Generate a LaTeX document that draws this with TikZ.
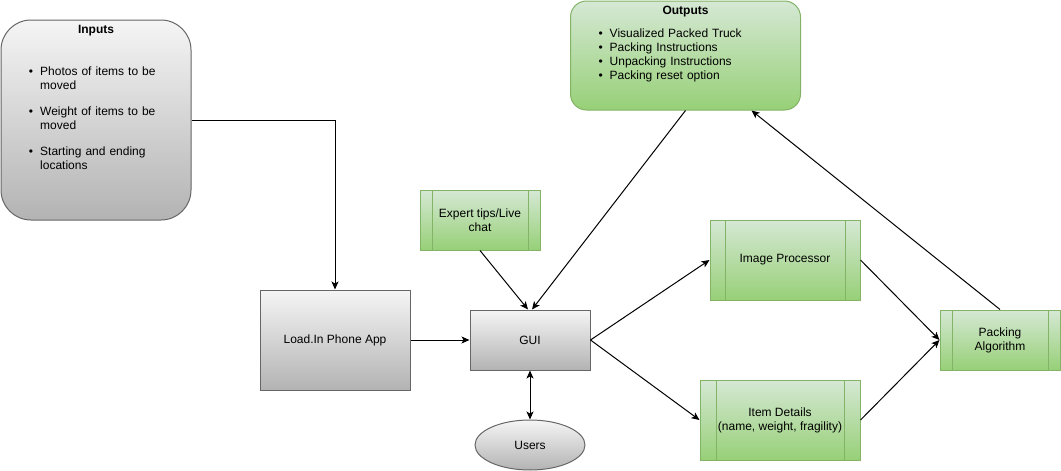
\documentclass[tikz,border=0pt]{standalone}
\usepackage{fontspec}
\setmainfont{Liberation Sans}
\usetikzlibrary{arrows.meta,shapes.geometric}

\definecolor{greyedge}{HTML}{666666}
\definecolor{greytop}{HTML}{F5F5F5}
\definecolor{greybot}{HTML}{B3B3B3}
\definecolor{greenedge}{HTML}{82B366}
\definecolor{greentop}{HTML}{D5E8D4}
\definecolor{greenbot}{HTML}{97D077}

\newcommand{\bulletlist}[1]{\hspace*{28pt}\begin{tabular}{@{}l@{\hspace{7pt}}l@{}}#1\end{tabular}}

\tikzset{
  arrowtip/.tip={Stealth[length=8pt,width=7pt,inset=2pt]},
  greybox/.style={draw=greyedge, top color=greytop, bottom color=greybot, align=center},
  greenbox/.style={draw=greenedge, top color=greentop, bottom color=greenbot, align=center},
  listbox/.style={text width=#1, inner xsep=0pt, align=left},
  boxtitle/.style={anchor=north, yshift=-2pt, font=\fontsize{12}{14}\selectfont\bfseries},
  procbox/.style={greenbox, path picture={
    \draw[greenedge] ([xshift=#1]path picture bounding box.north west) -- ([xshift=#1]path picture bounding box.south west)
      ([xshift=-#1]path picture bounding box.north east) -- ([xshift=-#1]path picture bounding box.south east);}},
  procbox/.default=12pt,
  link/.style={-arrowtip},
  twoway/.style={arrowtip-arrowtip}
}

\begin{document}
\begin{tikzpicture}[x=1pt, y=-1pt, line width=1pt, font=\fontsize{12}{14}\selectfont]

\useasboundingbox (0,0) rectangle (1061,471);

% inputs and outputs:
\node[greybox, listbox=190pt, rounded corners=30pt, minimum height=200pt,
  label={[boxtitle]north:Inputs}] (inputs) at (96,120)
  {\bulletlist{\textbullet & Photos of items to be\\ & moved\\[12pt]
   \textbullet & Weight of items to be\\ & moved\\[12pt]
   \textbullet & Starting and ending\\ & locations}};

\node[greenbox, listbox=230pt, rounded corners=16pt, minimum height=109pt,
  label={[boxtitle]north:Outputs}] (outputs) at (685.5,55.5)
  {\bulletlist{\textbullet & Visualized Packed Truck\\
   \textbullet & Packing Instructions\\
   \textbullet & Unpacking Instructions\\
   \textbullet & Packing reset option}};

% app, gui and users:
\node[greybox, minimum width=150pt, minimum height=100pt] (app) at (335,340) {Load.In Phone App};
\node[greybox, minimum width=120pt, minimum height=60pt] (gui) at (530,340) {GUI};
\node[greybox, ellipse, minimum width=110pt, minimum height=50pt] (users) at (530,445) {Users};

% processes:
\node[procbox, minimum width=120pt, minimum height=60pt] (expert) at (480,220) {Expert tips/Live\\chat};
\node[procbox=15pt, minimum width=150pt, minimum height=80pt] (imgproc) at (785,260) {Image Processor};
\node[procbox=16pt, minimum width=160pt, minimum height=80pt] (details) at (780,420) {Item Details\\(name, weight, fragility)};
\node[procbox, minimum width=120pt, minimum height=60pt] (packing) at (1000,340) {Packing\\Algorithm};

% connectors:
\draw[link] (inputs.east) -| (app.north);
\draw[link] (app) -- (gui);
\draw[link] (expert.south) -- ([xshift=-2pt]gui.north);
\draw[link] (outputs.south) -- ([xshift=2pt]gui.north);
\draw[twoway] (gui.south) -- (users.north);

\draw[link] (gui.east) -- (imgproc.west);
\draw[link] (gui.east) -- (details.west);
\draw[link] (imgproc.east) -- (packing.west);
\draw[link] (details.east) -- (packing.west);
\draw[link] (packing.north) -- ([xshift=66pt]outputs.south);

\end{tikzpicture}
\end{document}
